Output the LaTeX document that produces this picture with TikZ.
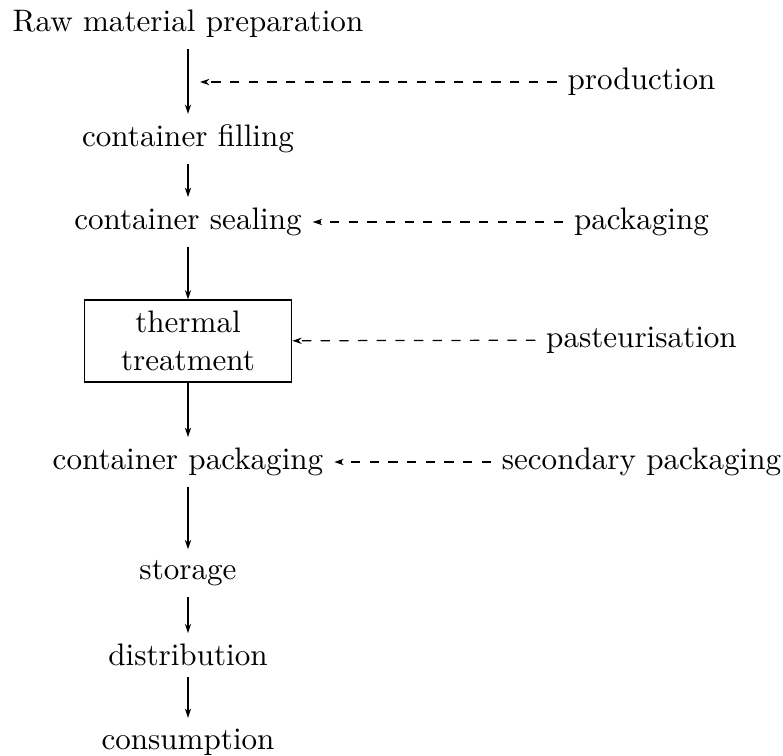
\documentclass[tikz,border=0pt]{standalone}
\usetikzlibrary{arrows.meta}
\begin{document}
\begin{tikzpicture}[x=0.32154pt,y=-0.32154pt,
  flow/.style={-{Stealth[length=3pt,width=2pt]}},
  feed/.style={dashed,-{Stealth[length=3pt,width=2pt]}},
  boxed/.style={draw,text width=60pt,align=center,minimum height=26.4pt}]
\useasboundingbox (0,0) rectangle (783,756);
% main chain
\node (raw)  at (188,24)  {Raw material preparation};
\node (fill) at (188,139) {container filling};
\node (seal) at (188,222) {container sealing};
\node[boxed] (tt) at (188,341) {thermal\\treatment};
\node (cpack) at (188,462) {container packaging};
\node (stor) at (188,573) {storage};
\node (dist) at (188,655) {distribution};
\node (cons) at (188,742) {consumption};
% side labels
\node (prod)  at (641.5,82)  {production};
\node (lpack) at (641.5,222) {packaging};
\node (past)  at (641.5,340) {pasteurisation};
\node (sec)   at (641.5,462) {secondary packaging};
\coordinate (pa) at (200,82);
% connectors
\draw[flow] (raw) -- (fill);
\draw[flow] (fill) -- (seal);
\draw[flow] (seal) -- (tt);
\draw[flow] (tt) -- (cpack);
\draw[flow] (cpack) -- (stor);
\draw[flow] (stor) -- (dist);
\draw[flow] (dist) -- (cons);
\draw[feed] (prod) -- (pa);
\draw[feed] (lpack) -- (seal);
\draw[feed] (past) -- (tt);
\draw[feed] (sec) -- (cpack);
\end{tikzpicture}
\end{document}
